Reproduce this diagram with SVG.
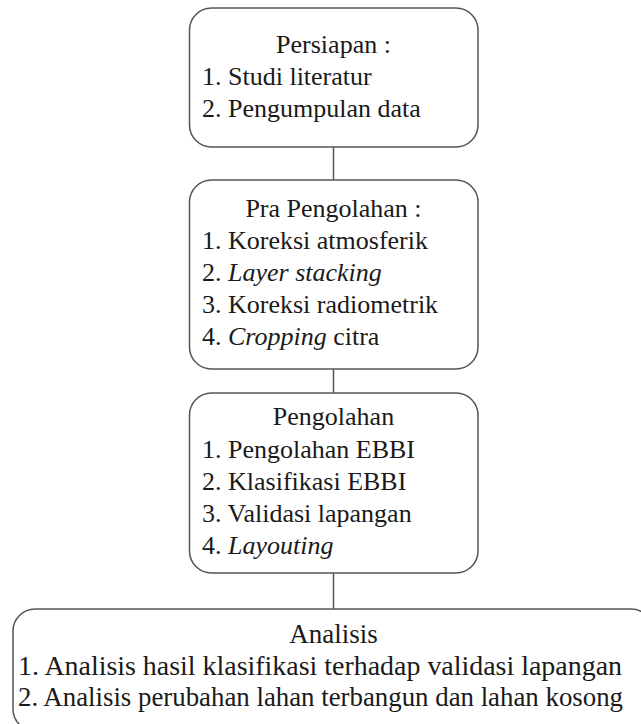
<svg xmlns="http://www.w3.org/2000/svg" width="641" height="724" viewBox="0 0 641 724">
<style>
.box{fill:#fff;stroke:#555;stroke-width:1.5}
.c{text-anchor:middle}
.conn line{stroke:#555;stroke-width:1.5}
</style>
<rect width="641" height="724" fill="#fff"/>
<g class="conn">
<line x1="333.5" y1="147" x2="333.5" y2="180"/>
<line x1="333.5" y1="369" x2="333.5" y2="393"/>
<line x1="333.5" y1="573" x2="333.5" y2="609"/>
</g>
<g font-family="Liberation Serif, Times New Roman, Tinos, DejaVu Serif, serif" font-size="26" fill="#1a1a1a">
<g id="persiapan">
<rect class="box" x="189.5" y="8" width="288.5" height="139" rx="22"/>
<text class="c" x="333.5" y="53">Persiapan :</text>
<text x="202" y="85">1. Studi literatur</text>
<text x="202" y="117">2. Pengumpulan data</text>
</g>
<g id="pra">
<rect class="box" x="189.5" y="180" width="288.5" height="189" rx="22"/>
<text class="c" x="333.5" y="217">Pra Pengolahan :</text>
<text x="202" y="249">1. Koreksi atmosferik</text>
<text x="202" y="281">2. <tspan font-style="italic">Layer stacking</tspan></text>
<text x="202" y="313">3. Koreksi radiometrik</text>
<text x="202" y="345">4. <tspan font-style="italic">Cropping</tspan> citra</text>
</g>
<g id="pengolahan">
<rect class="box" x="189.5" y="393" width="288.5" height="180" rx="22"/>
<text class="c" x="333.5" y="425">Pengolahan</text>
<text x="202" y="458">1. Pengolahan EBBI</text>
<text x="202" y="490">2. Klasifikasi EBBI</text>
<text x="202" y="522">3. Validasi lapangan</text>
<text x="202" y="554">4. <tspan font-style="italic">Layouting</tspan></text>
</g>
<g id="analisis" font-size="27">
<rect class="box" x="13" y="609" width="640" height="122" rx="22"/>
<text class="c" x="333.5" y="643">Analisis</text>
<text x="18" y="675" textLength="604" lengthAdjust="spacingAndGlyphs">1. Analisis hasil klasifikasi terhadap validasi lapangan</text>
<text x="18" y="706" textLength="605" lengthAdjust="spacingAndGlyphs">2. Analisis perubahan lahan terbangun dan lahan kosong</text>
</g>
</g>
</svg>
